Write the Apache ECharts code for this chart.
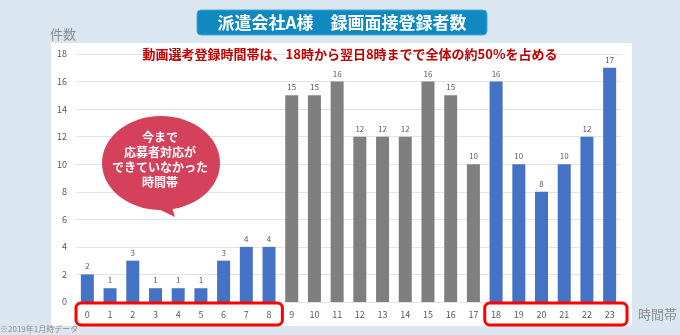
<!DOCTYPE html>
<html>
<head>
<meta charset="utf-8">
<script src="https://cdn.jsdelivr.net/npm/echarts@6/dist/echarts.min.js"></script>
<style>
html,body{margin:0;padding:0;background:#dae6f0;}
#c{width:680px;height:335px;}
</style>
</head>
<body>
<div id="c"></div>
<script>
const hours = ['0','1','2','3','4','5','6','7','8','9','10','11','12','13','14','15','16','17','18','19','20','21','22','23'];
const counts = [2,1,3,1,1,1,3,4,4,15,15,16,12,12,12,16,15,10,16,10,8,10,12,17];
const highlighted = [true,true,true,true,true,true,true,true,true,false,false,false,false,false,false,false,false,false,true,true,true,true,true,true];
const yTicks = {min:0, max:18, interval:2};
const titleText = '派遣会社A様　録画面接登録者数';
const subText = '動画選考登録時間帯は、18時から翌日8時までで全体の約50%を占める';
const bubbleLines = ['今まで','応募者対応が','できていなかった','時間帯'];
const groups = [[0,8],[18,23]];

const FONT = '"Noto Sans CJK JP", "Noto Sans", sans-serif';
const BLUE = '#4472c4', GRAY = '#7f7f7f';

const chart = echarts.init(document.getElementById('c'));
const option = {
  backgroundColor: '#dae6f0',
  textStyle: {fontFamily: FONT},
  animation: false,
  grid: {left: 76, right: 59, top: 54, bottom: 33, containLabel: false},
  xAxis: {
    type: 'category', data: hours,
    axisLine: {show: false}, axisTick: {show: false},
    axisLabel: {color: '#595959', fontSize: 9, margin: 8, fontFamily: FONT}
  },
  yAxis: {
    type: 'value', min: yTicks.min, max: yTicks.max, interval: yTicks.interval,
    axisLine: {show: false}, axisTick: {show: false},
    axisLabel: {color: '#595959', fontSize: 9, margin: 9, fontFamily: FONT},
    splitLine: {lineStyle: {color: '#e3e3e3', width: 1}}
  },
  series: [{
    type: 'bar', barWidth: 13,
    data: counts.map((v,i) => ({value: v, itemStyle: {color: highlighted[i] ? BLUE : GRAY}})),
    label: {show: true, position: 'top', distance: 4, color: '#595959', fontSize: 8, fontFamily: FONT}
  }],
  graphic: []
};
chart.setOption(option);

const g = [];
// white panel
g.push({type:'rect', z:-10, silent:true, shape:{x:51,y:43,width:581,height:283}, style:{fill:'#ffffff'}});
// title box
g.push({type:'rect', z:10, shape:{x:197,y:10,width:290,height:25,r:4}, style:{fill:'#0f89bf', stroke:'#4aa7d3', lineWidth:1}});
g.push({type:'text', z:11, style:{text:titleText, x:342, y:22.5, align:'center', verticalAlign:'middle', fill:'#ffffff', font:'bold 17px '+FONT}});
// y axis name
g.push({type:'text', z:11, style:{text:'件数', x:50, y:34, align:'left', verticalAlign:'middle', fill:'#8c8c8c', font:'13px '+FONT}});
// subtitle
g.push({type:'text', z:11, style:{text:subText, x:350, y:54, align:'center', verticalAlign:'middle', fill:'#c00000', font:'bold 13px '+FONT}});
// x axis name
g.push({type:'text', z:11, style:{text:'時間帯', x:638, y:314, align:'left', verticalAlign:'middle', fill:'#8c8c8c', font:'13px '+FONT}});
// footnote
g.push({type:'text', z:11, style:{text:'※2019年1月時データ', x:0, y:329, align:'left', verticalAlign:'middle', fill:'#8c8c8c', font:'8px '+FONT}});
// speech bubble
g.push({type:'ellipse', z:12, shape:{cx:161,cy:163,rx:59,ry:47}, style:{fill:'#d5405a'}});
g.push({type:'polygon', z:12, shape:{points:[[150,205],[171,204],[175,217]]}, style:{fill:'#d5405a'}});
g.push({type:'text', z:13, style:{text:bubbleLines.join('\n'), x:160, y:160, align:'center', verticalAlign:'middle', lineHeight:15, fill:'#ffffff', font:'bold 12px '+FONT}});
// red frames around category groups
const step = chart.convertToPixel({xAxisIndex:0}, hours[1]) - chart.convertToPixel({xAxisIndex:0}, hours[0]);
const y0 = chart.convertToPixel({yAxisIndex:0}, 0);
groups.forEach(([a,b]) => {
  const xa = chart.convertToPixel({xAxisIndex:0}, hours[a]) - step/2;
  const xb = chart.convertToPixel({xAxisIndex:0}, hours[b]) + step/2;
  g.push({type:'rect', z:14, shape:{x:xa,y:y0+1,width:xb-xa+(b===23?6:2),height:22,r:5}, style:{fill:'none', stroke:'#ff0000', lineWidth:3}});
});
chart.setOption({graphic: g});
</script>
</body>
</html>
